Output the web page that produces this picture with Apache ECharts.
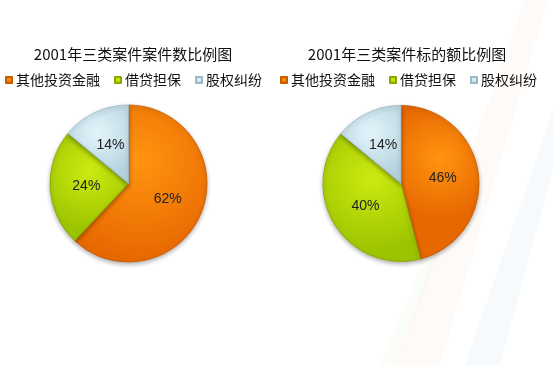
<!DOCTYPE html>
<html><head><meta charset="utf-8">
<script src="https://cdn.jsdelivr.net/npm/echarts@6/dist/echarts.min.js"></script>
<style>html,body{margin:0;padding:0;background:#fff}#c{width:553px;height:365px}</style>
</head><body><div id="c"></div>
<script>
const categories = ['其他投资金融', '借贷担保', '股权纠纷'];
const countShare = [62, 24, 14];
const amountShare = [46, 40, 14];
const titles = ['2001年三类案件案件数比例图', '2001年三类案件标的额比例图'];

const colors = [
  {type:'radial', x:0.5, y:0.35, r:0.75, colorStops:[{offset:0,color:'#FF9410'},{offset:1,color:'#E86800'}]},
  {type:'radial', x:0.5, y:0.35, r:0.75, colorStops:[{offset:0,color:'#CCEA10'},{offset:1,color:'#9CC400'}]},
  {type:'radial', x:0.5, y:0.35, r:0.75, colorStops:[{offset:0,color:'#E2F4FA'},{offset:1,color:'#B5D2DE'}]}
];
const legendColors = ['#F07A10', '#B4D800', '#BBD6E2'];
const borders = ['#C85A00', '#86A800', '#9AB8C6'];

function mk(vals){ return vals.map((v,i)=>({name:categories[i], value:v,
  itemStyle:{color:colors[i], borderColor:borders[i], borderWidth:0.8}})); }

const cjk = '"Noto Sans CJK SC", sans-serif';
const chart = echarts.init(document.getElementById('c'));
chart.setOption({
  animation:false,
  backgroundColor:'#fff',
  graphic:[
    {type:'polygon', silent:true, z:-10, shape:{points:[[395,365],[440,365],[548,0],[525,0]]}, style:{fill:'rgba(250,215,190,0.12)'}},
    {type:'polygon', silent:true, z:-10, shape:{points:[[465,365],[500,365],[553,170],[553,110]]}, style:{fill:'rgba(200,225,240,0.16)'}},
    {type:'polygon', silent:true, z:-10, shape:{points:[[380,365],[395,365],[470,170],[462,170]]}, style:{fill:'rgba(225,240,200,0.12)'}}
  ],
  title:[
    {text:titles[0], left:128, top:42, textAlign:'center', textStyle:{fontFamily:cjk, fontSize:15, fontWeight:'normal', color:'#111'}},
    {text:titles[1], left:402, top:42, textAlign:'center', textStyle:{fontFamily:cjk, fontSize:15, fontWeight:'normal', color:'#111'}}
  ],
  legend:[
    {data:categories, left:0, top:68, icon:'rect', itemWidth:6, itemHeight:6, itemGap:14,
     textStyle:{fontFamily:cjk, fontSize:14, color:'#111', padding:[0,0,0,-1]}},
    {data:categories, left:275, top:68, icon:'rect', itemWidth:6, itemHeight:6, itemGap:14,
     textStyle:{fontFamily:cjk, fontSize:14, color:'#111', padding:[0,0,0,-1]}}
  ],
  color: legendColors,
  series:[
    {type:'pie', center:[128.5,183.5], radius:78.5, startAngle:90, clockwise:true,
     label:{show:true, position:'inside', formatter:'{c}%', fontFamily:'Liberation Sans, Arial', fontSize:14, color:'#222'},
     labelLine:{show:false},
     itemStyle:{shadowBlur:4, shadowColor:'rgba(0,0,0,0.3)', shadowOffsetY:2},
     data:mk(countShare)},
    {type:'pie', center:[401,183.5], radius:78, startAngle:90, clockwise:true,
     label:{show:true, position:'inside', formatter:'{c}%', fontFamily:'Liberation Sans, Arial', fontSize:14, color:'#222'},
     labelLine:{show:false},
     itemStyle:{shadowBlur:4, shadowColor:'rgba(0,0,0,0.3)', shadowOffsetY:2},
     data:mk(amountShare)}
  ]
});
</script></body></html>
